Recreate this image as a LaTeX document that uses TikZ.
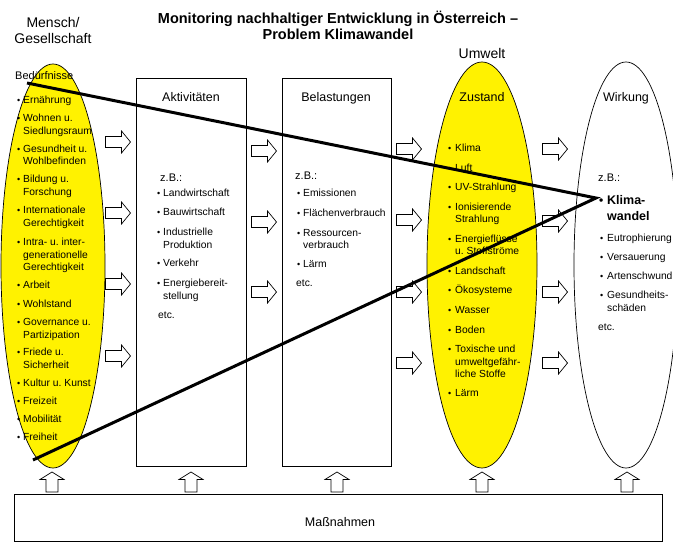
\documentclass[tikz,border=0pt]{standalone}
\usepackage{fontspec}
\setmainfont{Liberation Sans}
\usetikzlibrary{shapes.geometric}
\begin{document}
\frenchspacing
\begin{tikzpicture}[x=1pt,y=-1pt,
  outl/.style={draw=black, line width=0.7pt, inner sep=0pt},
  yell/.style={outl, fill=yellow},
  blk/.style={draw=black, fill=white, line width=0.7pt},
  bigline/.style={draw=black, line width=3pt},
  lst/.style={anchor=base west, inner sep=0pt, yshift=-3.7pt, font=\fontsize{10.3}{12}\selectfont},
  bul/.style={anchor=base west, inner sep=0pt, yshift=-3.7pt, font=\fontsize{9}{12}\selectfont},
  zb/.style={anchor=base west, inner sep=0pt, yshift=-4pt, font=\fontsize{11}{12}\selectfont},
  hdr/.style={inner sep=0pt, align=center, font=\fontsize{14}{16}\selectfont},
  ttl/.style={anchor=base, inner sep=0pt, yshift=-4.5pt, font=\fontsize{12.5}{14}\selectfont},
  rarr/.pic={\draw[blk] (-12.5,-5.5) -- (3.5,-5.5) -- (3.5,-11) -- (12.5,0) -- (3.5,11) -- (3.5,5.5) -- (-12.5,5.5) -- cycle;},
  uarr/.pic={\draw[blk] (-6,10) -- (-6,-2.5) -- (-12,-2.5) -- (0,-10) -- (12,-2.5) -- (6,-2.5) -- (6,10) -- cycle;}
]
\useasboundingbox (0,0) rectangle (673,543);

% shapes
\node[yell, ellipse, minimum width=104pt, minimum height=404pt] (mensch) at (53,266) {};
\node[outl, minimum width=110pt, minimum height=388pt, anchor=north west] (akt) at (136,78) {};
\node[outl, minimum width=109pt, minimum height=388pt, anchor=north west] (bel) at (282,78) {};
\node[yell, ellipse, minimum width=110pt, minimum height=406pt] (zus) at (482,265) {};
\node[outl, ellipse, minimum width=104pt, minimum height=406pt] (wir) at (626,265) {};
\node[outl, minimum width=648pt, minimum height=47pt, anchor=north west] (mass) at (14,494) {};

% headings
\node[inner sep=0pt, align=center, font=\bfseries\fontsize{14.5}{16}\selectfont] (title) at (338,25)
  {Monitoring nachhaltiger Entwicklung in Österreich –\\Problem Klimawandel};
\node[hdr] (mg) at (53,30) {Mensch/\\Gesellschaft};
\node[hdr] (umw) at (482,53) {Umwelt};
\node[anchor=base west, inner sep=0pt, yshift=-4pt, font=\fontsize{11}{12}\selectfont] (bed) at (15,76) {Bedürfnisse};
\node[ttl] (takt) at (191,97) {Aktivitäten};
\node[ttl] (tbel) at (336,97) {Belastungen};
\node[ttl] (tzus) at (482,97) {Zustand};
\node[ttl] (twir) at (626,97) {Wirkung};
\node[ttl] (tmass) at (340,522) {Maßnahmen};

% left list
\foreach \y [count=\i] in {100,118,148.5,179,210,242,285,303.5,322,352,382.5,400.5,418.5,436.5}
  \node[bul, name=mb\i] at (17,\y) {\textbullet};
\foreach \y/\t [count=\i] in {100/Ernährung, 118/Wohnen u., 130.5/Siedlungsraum, 148.5/Gesundheit u.,
  161/Wohlbefinden, 179/Bildung u., 191.5/Forschung, 210/Internationale, 222.5/Gerechtigkeit,
  242/Intra- u. inter-, 254.5/generationelle, 267/Gerechtigkeit, 285/Arbeit, 303.5/Wohlstand,
  322/Governance u., 334.5/Partizipation, 352/Friede u., 364.5/Sicherheit, 382.5/Kultur u. Kunst,
  400.5/Freizeit, 418.5/Mobilität, 436.5/Freiheit}
  \node[lst, name=m\i] at (23,\y) {\t};

% Aktivitaeten list
\node[zb] (zb1) at (160,177) {z.B.:};
\foreach \y [count=\i] in {193,212,232,263,282.5}
  \node[bul, name=ab\i] at (157,\y) {\textbullet};
\foreach \y/\t [count=\i] in {193/Landwirtschaft, 212/Bauwirtschaft, 232/Industrielle, 244.5/Produktion,
  263/Verkehr, 282.5/Energiebereit-, 296/stellung}
  \node[lst, name=a\i] at (163,\y) {\t};
\node[lst] (etc1) at (158,315) {etc.};

% Belastungen list
\node[zb] (zb2) at (295,175) {z.B.:};
\foreach \y [count=\i] in {193,213,233,264}
  \node[bul, name=bb\i] at (297,\y) {\textbullet};
\foreach \y/\t [count=\i] in {193/Emissionen, 213/Flächenverbrauch, 233/Ressourcen-, 245/verbrauch, 264/Lärm}
  \node[lst, name=b\i] at (303,\y) {\t};
\node[lst] (etc2) at (296,283) {etc.};

% Zustand list
\foreach \y [count=\i] in {148,168,187,207,238.5,271,290,309.5,329.5,349,393}
  \node[bul, name=zbu\i] at (448,\y) {\textbullet};
\foreach \y/\t [count=\i] in {148/Klima, 168/Luft, 187/UV-Strahlung, 207/Ionisierende, 219/Strahlung,
  238.5/Energieflüsse, 251/u. Stoffströme, 271/Landschaft, 290/Ökosysteme, 309.5/Wasser, 329.5/Boden,
  349/Toxische und, 361.5/umweltgefähr-, 374/liche Stoffe, 393/Lärm}
  \node[lst, name=z\i] at (455,\y) {\t};

% Wirkung list
\node[zb] (zb3) at (598,178) {z.B.:};
\node[anchor=base west, inner sep=0pt, yshift=-4.3pt, font=\bfseries\fontsize{12}{16}\selectfont] (kb) at (599,200) {\textbullet};
\node[anchor=base west, inner sep=0pt, yshift=-4.3pt, font=\bfseries\fontsize{12.5}{16}\selectfont] (kw1) at (607,200) {Klima-};
\node[anchor=base west, inner sep=0pt, yshift=-4.3pt, font=\bfseries\fontsize{12.5}{16}\selectfont] (kw2) at (607,216) {wandel};
\foreach \y [count=\i] in {238,257,276,295}
  \node[bul, name=wb\i] at (600,\y) {\textbullet};
\foreach \y/\t [count=\i] in {238/Eutrophierung, 257/Versauerung, 276/Artenschwund, 295/Gesundheits-, 308/schäden}
  \node[lst, name=w\i] at (607,\y) {\t};
\node[lst] (etc3) at (598,327) {etc.};

% block arrows
\foreach \y in {142,213,284,356} \pic at (118,\y) {rarr};
\foreach \y in {151,222,292} \pic at (264,\y) {rarr};
\foreach \y in {149,220,292,363} \pic at (409,\y) {rarr};
\foreach \y in {149,221,292,363} \pic at (555,\y) {rarr};
\foreach \x in {52,191,337,482,627} \pic at (\x,482) {uarr};

% thick lines
\coordinate (s1) at (27,83);
\coordinate (s2) at (33,460);
\coordinate (kwp) at (596,198);
\draw[bigline] (s1) -- (kwp) -- (s2);
\end{tikzpicture}
\end{document}
